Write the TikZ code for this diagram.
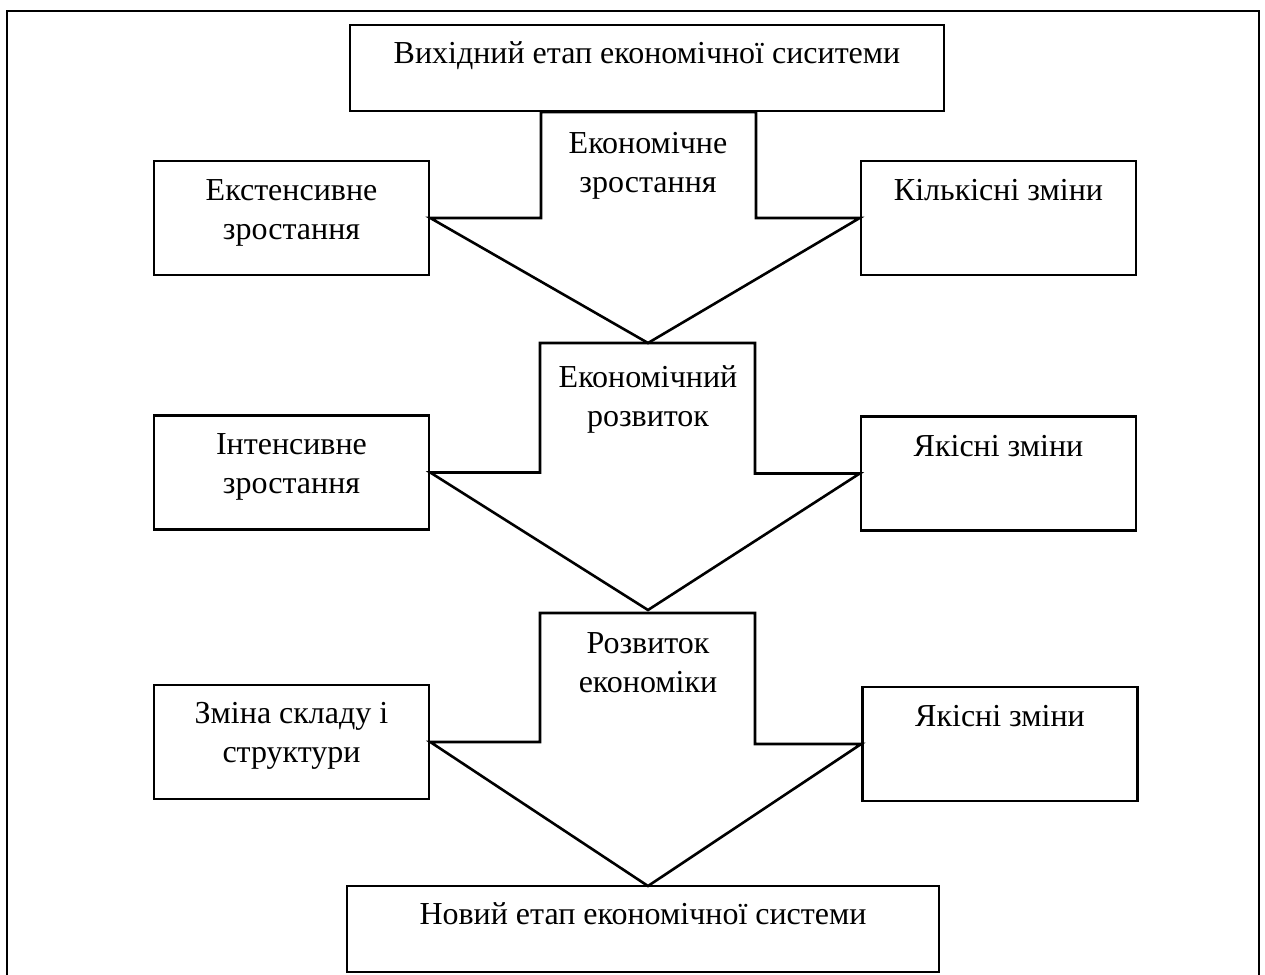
\documentclass[tikz,border=0pt]{standalone}
\usepackage{fontspec}
\setmainfont{Liberation Serif}
\begin{document}
\begin{tikzpicture}[x=0.5pt, y=-0.5pt, line width=1.3pt,
	every node/.style={font=\fontsize{16}{19.5}\selectfont},
	blok/.style={draw, rectangle, inner sep=0pt, minimum width=137.5pt, minimum height=57pt},
	etap/.style={draw, rectangle, inner sep=0pt, minimum width=297pt, minimum height=43pt},
	txt/.style={align=center, anchor=base, inner sep=0pt},
	txtdva/.style={txt, yshift=-19.5pt}]
\useasboundingbox (0,0) rectangle (1265,975);
% outer frame
\draw (7,985) -- (7,11) -- (1259,11) -- (1259,985);
% boxes
\node[etap] (start) at (647,68) {};
\node[blok] (ekst) at (291.5,218) {};
\node[blok] (kilk) at (998.5,218) {};
\node[blok] (inten) at (291.5,472.5) {};
\node[blok] (yak1) at (998.5,473.5) {};
\node[blok] (zmina) at (291.5,742) {};
\node[blok] (yak2) at (1000,744) {};
\node[etap, minimum width=296pt] (kinets) at (643,929) {};
% texts in boxes
\node[txt] (tstart) at ([yshift=-20pt]start.north) {Вихідний етап економічної сиситеми};
\node[txtdva] (tekst) at ([yshift=-20.5pt]ekst.north) {Екстенсивне\\зростання};
\node[txt] (tkilk) at ([yshift=-20.5pt]kilk.north) {Кількісні зміни};
\node[txtdva] (tinten) at ([yshift=-20pt]inten.north) {Інтенсивне\\зростання};
\node[txt] (tyak1) at ([yshift=-20.5pt]yak1.north) {Якісні зміни};
\node[txtdva] (tzmina) at ([yshift=-20pt]zmina.north) {Зміна складу і\\структури};
\node[txt] (tyak2) at ([yshift=-20.5pt]yak2.north) {Якісні зміни};
\node[txt] (tkinets) at ([yshift=-20pt]kinets.north) {Новий етап економічної системи};
% big arrows
\coordinate (tip1) at (648,343);
\coordinate (tip2) at (648,610);
\coordinate (tip3) at (648,886);
\draw (ekst.east) -- (541,0 |- ekst.east) -- (541,112) -- (756,112) -- (756,0 |- kilk.west) -- (kilk.west) -- (tip1) -- cycle;
\draw (inten.east) -- (540,0 |- inten.east) -- (540,343) -- (755,343) -- (755,0 |- yak1.west) -- (yak1.west) -- (tip2) -- cycle;
\draw (zmina.east) -- (540,0 |- zmina.east) -- (540,613) -- (755,613) -- (755,0 |- yak2.west) -- (yak2.west) -- (tip3) -- cycle;
\node[txtdva] (a1) at (648,153) {Економічне\\зростання};
\node[txtdva] (a2) at (648,387) {Економічний\\розвиток};
\node[txtdva] (a3) at (648,653) {Розвиток\\економіки};
\end{tikzpicture}
\end{document}
